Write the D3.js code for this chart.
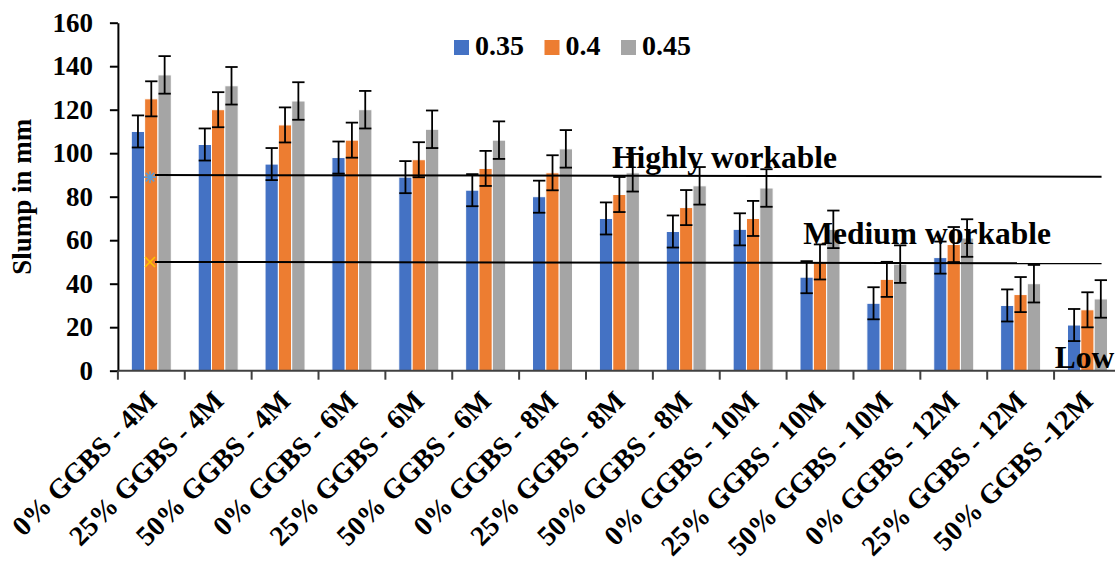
<!DOCTYPE html>
<html>
<head>
<meta charset="utf-8">
<script src="https://cdn.jsdelivr.net/npm/d3@7"></script>
<style>
  html, body { margin: 0; padding: 0; background: #fff; }
  svg { display: block; }
  text { font-family: "Liberation Serif", "Times New Roman", serif; font-weight: bold; fill: #000; }
</style>
</head>
<body>
<svg id="chart" width="1115" height="564"></svg>
<script>
// Mix designations along the category axis
const categories = [
  "0% GGBS - 4M", "25% GGBS - 4M", "50% GGBS - 4M",
  "0% GGBS - 6M", "25% GGBS - 6M", "50% GGBS - 6M",
  "0% GGBS - 8M", "25% GGBS - 8M", "50% GGBS - 8M",
  "0% GGBS - 10M", "25% GGBS - 10M", "50% GGBS - 10M",
  "0% GGBS - 12M", "25% GGBS - 12M", "50% GGBS -12M"
];

// Water/binder ratios (legend entries)
const seriesNames = ["0.35", "0.4", "0.45"];

// Slump (mm) per mix for each ratio
const slump035 = [110, 104, 95, 98, 89, 83, 80, 70, 64, 65, 43, 31, 52, 30, 21];
const slump040 = [125, 120, 113, 106, 97, 93, 91, 81, 75, 70, 50, 42, 58, 35, 28];
const slump045 = [136, 131, 124, 120, 111, 106, 102, 91, 85, 84, 65, 49, 61, 40, 33];

// Y-axis ticks
const yTicks = [0, 20, 40, 60, 80, 100, 120, 140, 160];

// Workability limits (slump, mm) at the left and right ends of each guide line
const limitNames = ["Highly workable", "Medium workable"];
const limitStart = [90, 50];
const limitEnd = [89.2, 49.4];
const limitMarkerValues = [89, 50];
const zoneLabels = ["Highly workable", "Medium workable", "Low"];

const colors = ["#4472C4", "#ED7D31", "#A5A5A5"];
const markerColors = ["#5B9BD5", "#FFC000"];
const seriesValues = [slump035, slump040, slump045];

const svg = d3.select("#chart");
svg.append("rect").attr("width", 1115).attr("height", 564).attr("fill", "#fff");

const plotLeft = 117.9, step = 66.87, plotTop = 22.7, plotBottom = 370.7;

const x = d3.scaleBand().domain(categories)
  .range([plotLeft, plotLeft + categories.length * step]).paddingInner(0).paddingOuter(0);
const xSub = d3.scaleBand().domain(d3.range(seriesNames.length)).range([13.4, 53.4]);
// continuous position along the category axis (in category units)
const xc = d3.scaleLinear().domain([0, categories.length]).range([plotLeft, plotLeft + categories.length * step]);
const y = d3.scaleLinear().domain([0, 160]).range([plotBottom, plotTop]);

// Standard error of each series, used for the error bars
const stdErr = seriesValues.map(v => d3.deviation(v) / Math.sqrt(v.length));

// Bars
const gBars = svg.append("g");
seriesValues.forEach((vals, s) => {
  gBars.selectAll(null).data(vals).enter().append("rect")
    .attr("x", (d, i) => x(categories[i]) + xSub(s))
    .attr("width", xSub.bandwidth())
    .attr("y", d => y(d))
    .attr("height", d => y(0) - y(d))
    .attr("fill", colors[s])
    .attr("stroke", "#fff")
    .attr("stroke-width", 1);
});

// Workability guide lines with their start markers
const xLineStart = xc(0.555), xLineEnd = xc(14.71);
limitNames.forEach((name, k) => {
  svg.append("line")
    .attr("x1", xLineStart).attr("x2", xLineEnd)
    .attr("y1", y(limitStart[k])).attr("y2", y(limitEnd[k]))
    .attr("stroke", "#000").attr("stroke-width", 2);
});
// asterisk marker
(function () {
  const cx = xc(0.48), cy = y(limitMarkerValues[0]), r = 6;
  const g = svg.append("g").attr("stroke", markerColors[0]).attr("stroke-width", 1.6);
  [0, 45, 90, 135].forEach(a => {
    const t = a * Math.PI / 180;
    g.append("line").attr("x1", cx - r * Math.cos(t)).attr("y1", cy - r * Math.sin(t))
      .attr("x2", cx + r * Math.cos(t)).attr("y2", cy + r * Math.sin(t));
  });
})();
// cross marker
(function () {
  const cx = xc(0.48), cy = y(limitMarkerValues[1]), r = 5;
  const g = svg.append("g").attr("stroke", markerColors[1]).attr("stroke-width", 1.6);
  g.append("line").attr("x1", cx - r).attr("y1", cy - r).attr("x2", cx + r).attr("y2", cy + r);
  g.append("line").attr("x1", cx - r).attr("y1", cy + r).attr("x2", cx + r).attr("y2", cy - r);
})();

// Zone labels
const zonePos = [[7.39, 93.1], [10.25, 58.1], [14.01, 1.1]];
svg.append("g").selectAll("text").data(zoneLabels).enter().append("text")
  .attr("x", (d, i) => xc(zonePos[i][0]))
  .attr("y", (d, i) => y(zonePos[i][1]))
  .attr("font-size", 31.5)
  .text(d => d);

// Error bars (standard error)
const gErr = svg.append("g").attr("stroke", "#000").attr("stroke-width", 1.8);
seriesValues.forEach((vals, s) => {
  vals.forEach((v, i) => {
    const cx = x(categories[i]) + xSub(s) + xSub.bandwidth() / 2;
    const hw = xSub.bandwidth() / 2 - 0.5;
    const y1 = y(v + stdErr[s]), y2 = y(v - stdErr[s]);
    gErr.append("line").attr("x1", cx).attr("x2", cx).attr("y1", y1).attr("y2", y2);
    gErr.append("line").attr("x1", cx - hw).attr("x2", cx + hw).attr("y1", y1).attr("y2", y1);
    gErr.append("line").attr("x1", cx - hw).attr("x2", cx + hw).attr("y1", y2).attr("y2", y2);
  });
});

// Y axis
const yAxis = d3.axisLeft(y).tickValues(yTicks).tickSize(8).tickPadding(17).tickSizeOuter(0);
const gy = svg.append("g").attr("transform", `translate(${plotLeft},0)`).call(yAxis);
gy.select(".domain").attr("stroke", "#000").attr("stroke-width", 2);
gy.selectAll(".tick line").attr("stroke", "#000").attr("stroke-width", 2);
gy.selectAll(".tick text").attr("font-size", 27).attr("font-family", null).attr("fill", "#000");

// X axis: line plus tick marks between categories
const gx = svg.append("g");
gx.append("line").attr("x1", plotLeft).attr("x2", plotLeft + categories.length * step)
  .attr("y1", plotBottom).attr("y2", plotBottom).attr("stroke", "#404040").attr("stroke-width", 2);
gx.selectAll("line.tk").data(d3.range(categories.length + 1)).enter().append("line")
  .attr("class", "tk")
  .attr("x1", d => xc(d)).attr("x2", d => xc(d))
  .attr("y1", plotBottom).attr("y2", plotBottom + 9)
  .attr("stroke", "#404040").attr("stroke-width", 2);
gx.selectAll("text").data(categories).enter().append("text")
  .attr("transform", d => `translate(${x(d) + step / 2},${plotBottom + 25}) rotate(-45)`)
  .attr("text-anchor", "end")
  .attr("dy", "0.35em")
  .attr("font-size", 28)
  .text(d => d);

// Y axis title
svg.append("text")
  .attr("transform", `translate(31,${(plotTop + plotBottom) / 2}) rotate(-90)`)
  .attr("text-anchor", "middle")
  .attr("font-size", 27)
  .text("Slump in mm");

// Legend
const gLeg = svg.append("g");
let lx = 454;
seriesNames.forEach((name, s) => {
  gLeg.append("rect").attr("x", lx).attr("y", 40).attr("width", 15).attr("height", 15).attr("fill", colors[s]);
  const t = gLeg.append("text").attr("x", lx + 21).attr("y", 55).attr("font-size", 28).text(name);
  lx = lx + 21 + t.node().getComputedTextLength() + 20.5;
});
</script>
</body>
</html>
